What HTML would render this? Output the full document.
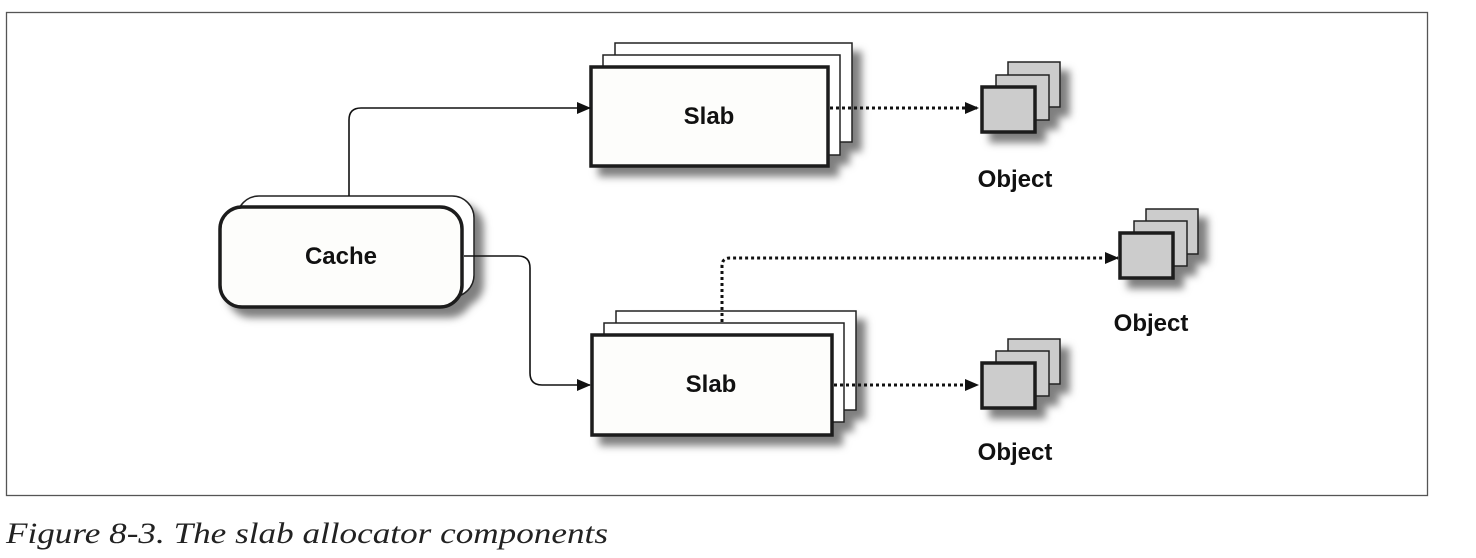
<!DOCTYPE html>
<html><head><meta charset="utf-8"><style>
html,body{margin:0;padding:0;background:#fff;width:1476px;height:558px;overflow:hidden}
svg{display:block}
.lbl{font-family:"Liberation Sans Narrow","Liberation Sans",sans-serif;font-weight:bold;font-size:24px;fill:#111;text-anchor:middle}
</style></head><body>
<svg width="1476" height="558" viewBox="0 0 1476 558" xmlns="http://www.w3.org/2000/svg">
<defs>
<filter id="sh" x="-20%" y="-20%" width="150%" height="150%">
<feDropShadow dx="9" dy="9" stdDeviation="4" flood-color="#000" flood-opacity="0.5"/>
</filter>
<marker id="ah" markerWidth="14" markerHeight="12" refX="13" refY="6" orient="auto" markerUnits="userSpaceOnUse">
<path d="M0,0 L14,6 L0,12 Z" fill="#111"/>
</marker>
</defs>
<rect x="6.5" y="12.5" width="1421" height="483" fill="#fff" stroke="#555" stroke-width="1.3"/>

<!-- Cache -->
<g filter="url(#sh)">
<rect x="237" y="196" width="237" height="101" rx="22" fill="#fff" stroke="#222" stroke-width="1.5"/>
<rect x="220" y="207" width="242" height="100" rx="22" fill="#fdfdfb" stroke="#1a1a1a" stroke-width="3.5"/>
</g>
<text class="lbl" x="341" y="264">Cache</text>

<!-- top slab -->
<g filter="url(#sh)">
<rect x="615" y="43" width="237" height="99" fill="#fff" stroke="#222" stroke-width="1.5"/>
<rect x="603" y="55" width="237" height="100" fill="#fff" stroke="#222" stroke-width="1.5"/>
<rect x="591" y="67" width="237" height="99" fill="#fdfdfb" stroke="#1a1a1a" stroke-width="3.5"/>
</g>
<text class="lbl" x="709" y="124">Slab</text>

<!-- bottom slab -->
<g filter="url(#sh)">
<rect x="616" y="311" width="240" height="99" fill="#fff" stroke="#222" stroke-width="1.5"/>
<rect x="604" y="323" width="240" height="99" fill="#fff" stroke="#222" stroke-width="1.5"/>
<rect x="592" y="335" width="240" height="100" fill="#fdfdfb" stroke="#1a1a1a" stroke-width="3.5"/>
</g>
<text class="lbl" x="711" y="392">Slab</text>

<!-- connectors -->
<path d="M349,196 V120 Q349,108 361,108 H590" fill="none" stroke="#111" stroke-width="1.6" marker-end="url(#ah)"/>
<path d="M464,256 H518 Q530,256 530,268 V373 Q530,385 542,385 H590" fill="none" stroke="#111" stroke-width="1.6" marker-end="url(#ah)"/>

<path d="M830,108 H978" fill="none" stroke="#111" stroke-width="3" stroke-dasharray="3,3" marker-end="url(#ah)"/>
<path d="M834,385 H978" fill="none" stroke="#111" stroke-width="3" stroke-dasharray="3,3"  marker-end="url(#ah)"/>
<path d="M722,322 V266 Q722,258 730,258 H1118" fill="none" stroke="#111" stroke-width="3" stroke-dasharray="3,3" marker-end="url(#ah)"/>

<!-- objects -->
<g filter="url(#sh)">
<rect x="1008" y="62" width="52" height="45" fill="#ccc" stroke="#222" stroke-width="1.5"/>
<rect x="996" y="75" width="53" height="45" fill="#ccc" stroke="#222" stroke-width="1.5"/>
<rect x="982" y="87" width="53" height="45" fill="#ccc" stroke="#1a1a1a" stroke-width="3.5"/>
</g>
<text class="lbl" x="1015" y="187">Object</text>

<g filter="url(#sh)">
<rect x="1146" y="209" width="52" height="45" fill="#ccc" stroke="#222" stroke-width="1.5"/>
<rect x="1134" y="221" width="53" height="45" fill="#ccc" stroke="#222" stroke-width="1.5"/>
<rect x="1120" y="233" width="53" height="45" fill="#ccc" stroke="#1a1a1a" stroke-width="3.5"/>
</g>
<text class="lbl" x="1151" y="331">Object</text>

<g filter="url(#sh)">
<rect x="1008" y="339" width="52" height="45" fill="#ccc" stroke="#222" stroke-width="1.5"/>
<rect x="996" y="351" width="53" height="45" fill="#ccc" stroke="#222" stroke-width="1.5"/>
<rect x="982" y="363" width="53" height="45" fill="#ccc" stroke="#1a1a1a" stroke-width="3.5"/>
</g>
<text class="lbl" x="1015" y="460">Object</text>

<text x="6" y="543" font-family="Liberation Serif, serif" font-style="italic" font-size="30" fill="#222" textLength="602" lengthAdjust="spacingAndGlyphs">Figure 8-3. The slab allocator components</text>
</svg>
</body></html>
